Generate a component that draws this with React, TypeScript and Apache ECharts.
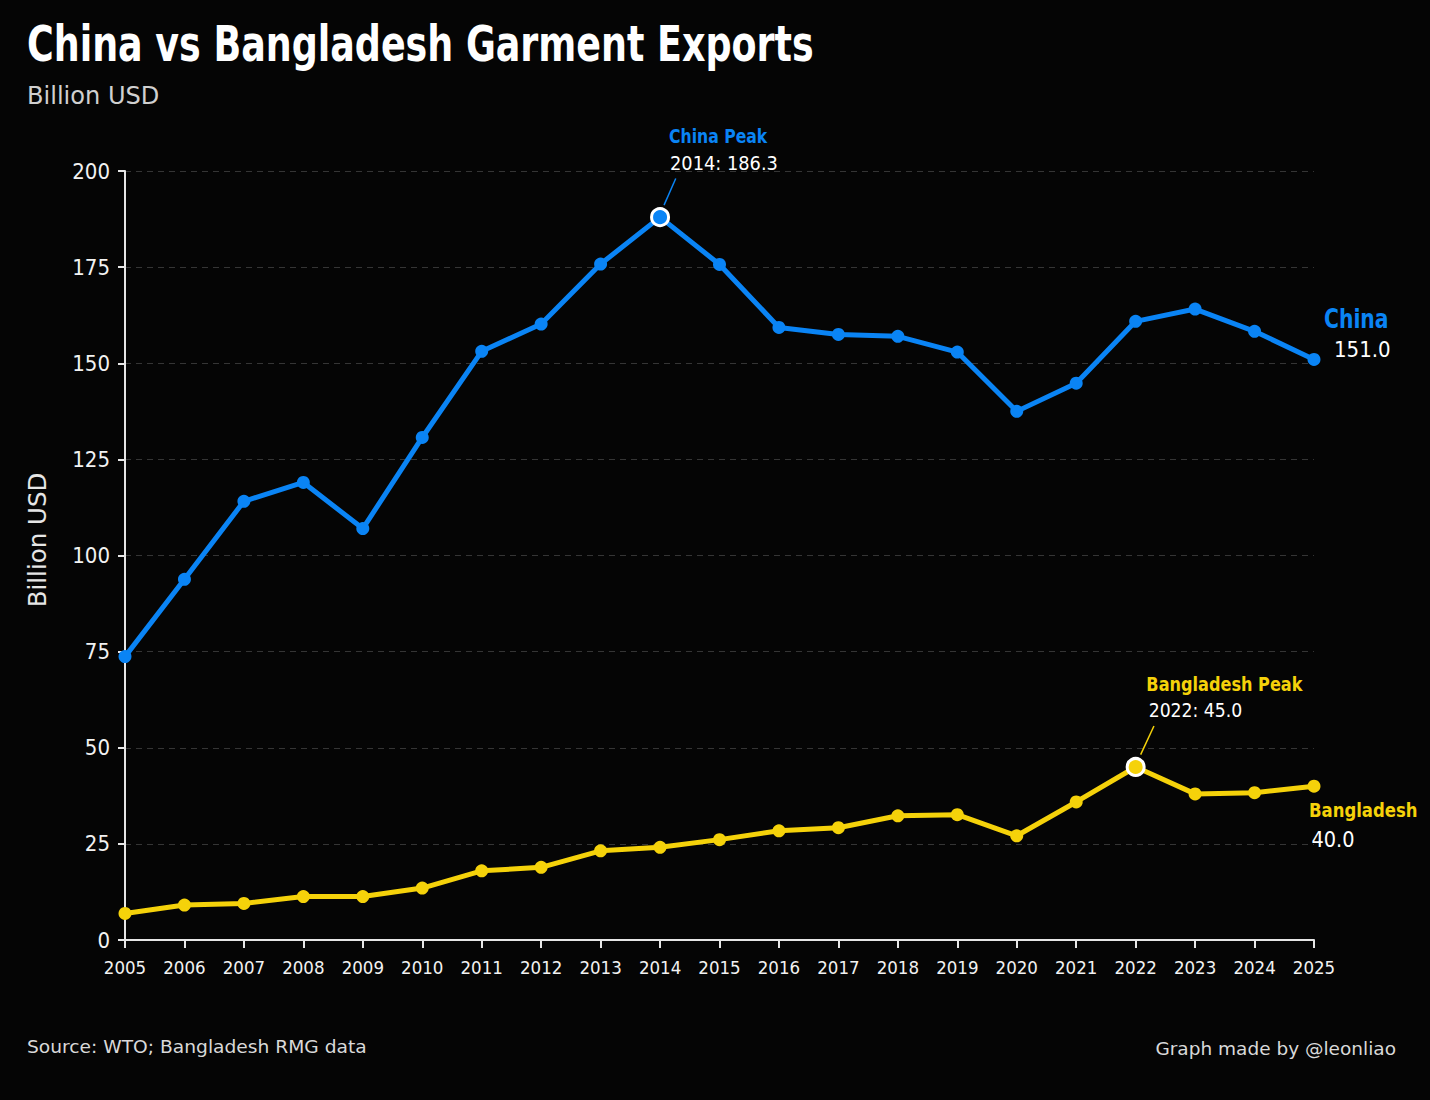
import React, { useEffect, useRef } from "react";
import * as echarts from "echarts";

const years = ["2005","2006","2007","2008","2009","2010","2011","2012","2013","2014","2015","2016","2017","2018","2019","2020","2021","2022","2023","2024","2025"];
const china = [73.7, 93.8, 114.1, 119.0, 107.0, 130.7, 153.1, 160.2, 175.8, 188.0, 175.7, 159.3, 157.5, 157.0, 152.9, 137.5, 144.8, 160.9, 164.1, 158.3, 151.0];
const bangladesh = [6.9, 9.1, 9.5, 11.3, 11.3, 13.5, 18.0, 18.9, 23.2, 24.1, 26.1, 28.4, 29.2, 32.3, 32.6, 27.1, 35.9, 45.0, 38.0, 38.3, 40.0];
const yTicks = [0, 25, 50, 75, 100, 125, 150, 175, 200];
const chinaPeakYear = "2014";
const chinaPeakValue = 186.3;
const bangPeakYear = "2022";
const bangPeakValue = 45.0;

const BLUE = "#0a84f5";
const YELLOW = "#f5d20a";
const COND = "'DejaVu Sans Condensed', sans-serif";
const WIDE = "'DejaVu Sans', Verdana, sans-serif";

function txt(text: string, x: number, y: number, font: string, fill: string, scaleX = 1, align = "left", rotation = 0) {
  return {
    type: "text",
    x,
    y,
    scaleX,
    rotation,
    style: { text, font, fill, align, verticalAlign: "middle" },
  };
}

export default function App() {
  const ref = useRef<HTMLDivElement>(null);
  useEffect(() => {
    if (!ref.current) return;
    const chart = echarts.init(ref.current, null, { renderer: "svg" });
    const chinaIdx = years.indexOf(chinaPeakYear);
    const bangIdx = years.indexOf(bangPeakYear);
    const mk = (arr: number[], color: string, peak: number) =>
      arr.map((v, i) =>
        i === peak
          ? { value: v, symbolSize: 17, itemStyle: { color, borderColor: "#fff", borderWidth: 3 } }
          : v
      );
    chart.setOption({
      animation: false,
      backgroundColor: "#050505",
      grid: { left: 125, right: 116, top: 171, bottom: 160 },
      xAxis: {
        type: "category",
        data: years,
        boundaryGap: false,
        axisLine: { show: true, lineStyle: { color: "#e6e6e6", width: 2 } },
        axisTick: { show: true, length: 8, interval: 0, lineStyle: { color: "#e6e6e6", width: 2 }, alignWithLabel: true },
        axisLabel: { color: "#f2f2f2", fontSize: 18.5, fontFamily: COND, margin: 18, interval: 0 },
        splitLine: { show: false },
      },
      yAxis: {
        type: "value",
        min: yTicks[0],
        max: yTicks[yTicks.length - 1],
        interval: 25,
        axisLine: { show: true, lineStyle: { color: "#e6e6e6", width: 2 } },
        axisTick: { show: true, length: 7, lineStyle: { color: "#e6e6e6", width: 2 } },
        axisLabel: { color: "#f2f2f2", fontSize: 22, fontFamily: COND, margin: 15 },
        splitLine: { show: true, lineStyle: { color: "#353535", type: [6, 5], width: 1 } },
      },
      series: [
        {
          name: "China",
          type: "line",
          data: mk(china, BLUE, chinaIdx),
          symbol: "circle",
          symbolSize: 13,
          lineStyle: { color: BLUE, width: 5 },
          itemStyle: { color: BLUE },
          z: 3,
        },
        {
          name: "Bangladesh",
          type: "line",
          data: mk(bangladesh, YELLOW, bangIdx),
          symbol: "circle",
          symbolSize: 13,
          lineStyle: { color: YELLOW, width: 5 },
          itemStyle: { color: YELLOW },
          z: 3,
        },
      ],
    });

    const cp = chart.convertToPixel({ seriesIndex: 0 }, [chinaIdx, china[chinaIdx]]) as number[];
    const bp = chart.convertToPixel({ seriesIndex: 1 }, [bangIdx, bangladesh[bangIdx]]) as number[];
    const ce = chart.convertToPixel({ seriesIndex: 0 }, [years.length - 1, china[china.length - 1]]) as number[];
    const be = chart.convertToPixel({ seriesIndex: 1 }, [years.length - 1, bangladesh[bangladesh.length - 1]]) as number[];

    chart.setOption({
      graphic: [
        txt("China vs Bangladesh Garment Exports", 27, 43.5, `bold 50px ${COND}`, "#ffffff", 0.81),
        txt("Billion USD", 27, 95, `25.5px ${COND}`, "#d0d0d0", 1.05),
        txt("Billion USD", 37, 540, `24.5px ${WIDE}`, "#e6e6e6", 1, "center", Math.PI / 2),
        txt("Source: WTO; Bangladesh RMG data", 27, 1046.7, `18.3px ${WIDE}`, "#d9d9d9", 1.02),
        txt("Graph made by @leonliao", 1396, 1048.8, `18.5px ${WIDE}`, "#d9d9d9", 1, "right"),
        // China peak
        { type: "line", shape: { x1: cp[0] + 4, y1: cp[1] - 12, x2: cp[0] + 15.7, y2: cp[1] - 38.7 }, style: { stroke: BLUE, lineWidth: 1.5 } },
        txt("China Peak", cp[0] + 9, cp[1] - 80.7, `bold 20px ${COND}`, BLUE, 0.87),
        txt(`${chinaPeakYear}: ${chinaPeakValue.toFixed(1)}`, cp[0] + 10, cp[1] - 54, `19.8px ${COND}`, "#ffffff"),
        // Bangladesh peak
        { type: "line", shape: { x1: bp[0] + 5, y1: bp[1] - 12.4, x2: bp[0] + 18.3, y2: bp[1] - 41 }, style: { stroke: YELLOW, lineWidth: 1.5 } },
        txt("Bangladesh Peak", bp[0] + 10.7, bp[1] - 83, `bold 19.5px ${COND}`, YELLOW, 0.92),
        txt(`${bangPeakYear}: ${bangPeakValue.toFixed(1)}`, bp[0] + 13, bp[1] - 56.7, `19.2px ${COND}`, "#ffffff"),
        // End labels
        txt("China", ce[0] + 10, ce[1] - 41, `bold 26.6px ${COND}`, BLUE, 0.85),
        txt(china[china.length - 1].toFixed(1), ce[0] + 20, ce[1] - 9.5, `22px ${COND}`, "#ffffff"),
        txt("Bangladesh", be[0] - 5, be[1] + 24, `bold 19.5px ${COND}`, YELLOW, 0.94),
        txt(bangladesh[bangladesh.length - 1].toFixed(1), be[0] - 2.6, be[1] + 53.3, `21.5px ${COND}`, "#ffffff"),
      ],
    });
    return () => chart.dispose();
  }, []);
  return <div ref={ref} style={{ position: "fixed", left: 0, top: 0, width: 1430, height: 1100 }} />;
}
